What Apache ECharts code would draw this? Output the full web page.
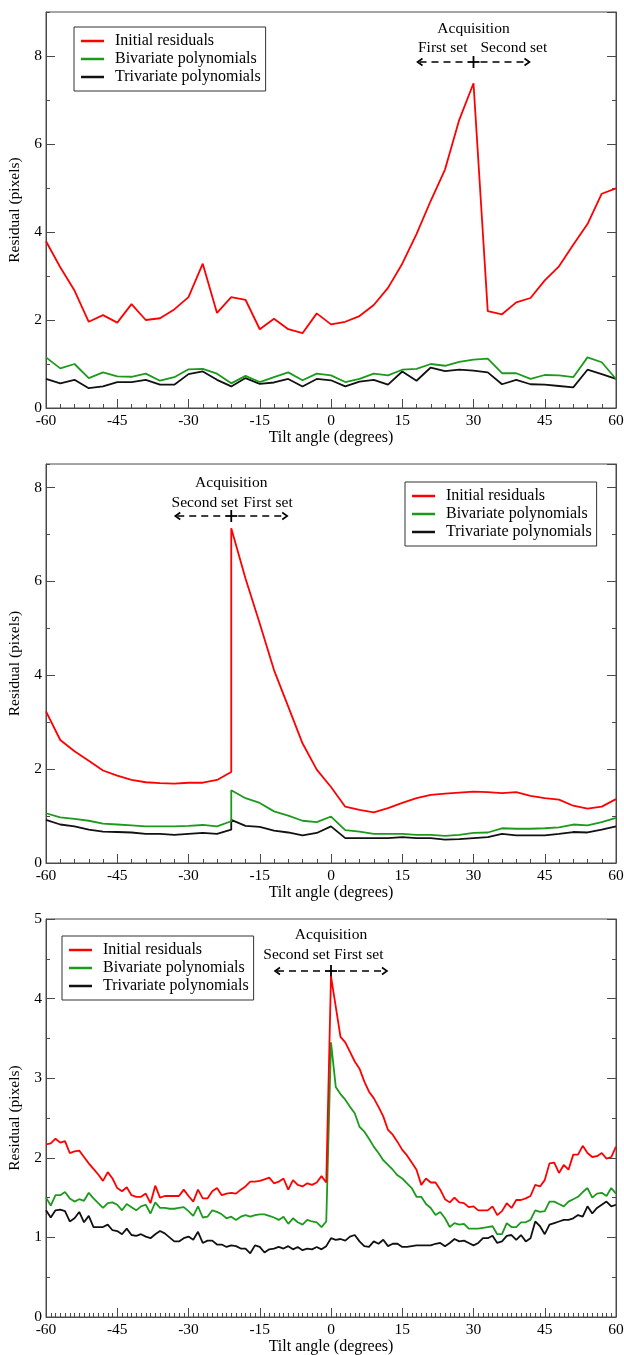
<!DOCTYPE html>
<html><head><meta charset="utf-8">
<script src="https://cdn.jsdelivr.net/npm/echarts@6/dist/echarts.min.js"></script>
<style>html,body{margin:0;padding:0;background:#fff}#c{width:624px;height:1355px}</style>
</head><body><div id="c"></div>
<script>
// ---------- DATA ----------
const seriesNames = ['Initial residuals', 'Bivariate polynomials', 'Trivariate polynomials'];
const xAxisTitle = 'Tilt angle (degrees)';
const yAxisTitle = 'Residual (pixels)';

// Panel 1 (3-degree steps)
const angles1 = [-60,-57,-54,-51,-48,-45,-42,-39,-36,-33,-30,-27,-24,-21,-18,-15,-12,-9,-6,-3,0,3,6,9,12,15,18,21,24,27,30,33,36,39,42,45,48,51,54,57,60];
const red1 = [3.79,3.2,2.67,1.96,2.11,1.94,2.36,2.0,2.04,2.24,2.52,3.28,2.16,2.52,2.46,1.79,2.03,1.79,1.7,2.15,1.9,1.96,2.09,2.34,2.73,3.28,3.95,4.71,5.42,6.55,7.38,2.2,2.13,2.4,2.5,2.9,3.22,3.71,4.18,4.87,4.99];
const green1 = [1.15,0.9,1.0,0.68,0.81,0.72,0.71,0.78,0.62,0.7,0.88,0.89,0.78,0.56,0.73,0.59,0.7,0.81,0.63,0.78,0.74,0.59,0.66,0.78,0.74,0.87,0.89,1.0,0.96,1.05,1.1,1.12,0.79,0.79,0.66,0.75,0.74,0.7,1.15,1.04,0.66];
const black1 = [0.66,0.56,0.64,0.45,0.49,0.59,0.59,0.64,0.53,0.53,0.77,0.83,0.64,0.49,0.68,0.55,0.58,0.66,0.49,0.66,0.63,0.49,0.6,0.64,0.53,0.83,0.62,0.92,0.84,0.87,0.85,0.81,0.54,0.64,0.54,0.53,0.5,0.47,0.87,0.77,0.66];

// Panel 2 (3-degree steps, two sets meeting at -21)
const angles2 = [-60,-57,-54,-51,-48,-45,-42,-39,-36,-33,-30,-27,-24,-21,-21,-18,-15,-12,-9,-6,-3,0,3,6,9,12,15,18,21,24,27,30,33,36,39,42,45,48,51,54,57,60];
const red2 = [3.23,2.62,2.38,2.18,1.97,1.86,1.77,1.72,1.70,1.69,1.71,1.71,1.77,1.94,7.13,6.06,5.1,4.11,3.33,2.55,1.99,1.62,1.2,1.13,1.08,1.17,1.28,1.38,1.45,1.48,1.5,1.52,1.51,1.49,1.51,1.43,1.38,1.35,1.22,1.16,1.2,1.36];
const green2 = [1.06,0.97,0.94,0.9,0.84,0.82,0.8,0.78,0.78,0.78,0.79,0.81,0.78,0.89,1.55,1.38,1.28,1.1,1.01,0.9,0.87,0.99,0.7,0.67,0.62,0.62,0.62,0.6,0.6,0.58,0.6,0.64,0.65,0.74,0.73,0.73,0.74,0.76,0.82,0.8,0.87,0.96];
const black2 = [0.92,0.82,0.78,0.71,0.67,0.66,0.65,0.62,0.62,0.6,0.62,0.64,0.62,0.71,0.92,0.79,0.77,0.69,0.65,0.59,0.64,0.78,0.53,0.53,0.53,0.53,0.55,0.53,0.53,0.5,0.51,0.53,0.55,0.62,0.59,0.59,0.59,0.62,0.66,0.65,0.71,0.78];

// Panel 3 (1-degree steps)
const angles3 = [-60,-59,-58,-57,-56,-55,-54,-53,-52,-51,-50,-49,-48,-47,-46,-45,-44,-43,-42,-41,-40,-39,-38,-37,-36,-35,-34,-33,-32,-31,-30,-29,-28,-27,-26,-25,-24,-23,-22,-21,-20,-19,-18,-17,-16,-15,-14,-13,-12,-11,-10,-9,-8,-7,-6,-5,-4,-3,-2,-1,0,1,2,3,4,5,6,7,8,9,10,11,12,13,14,15,16,17,18,19,20,21,22,23,24,25,26,27,28,29,30,31,32,33,34,35,36,37,38,39,40,41,42,43,44,45,46,47,48,49,50,51,52,53,54,55,56,57,58,59,60];
const red3 = [2.17,2.18,2.24,2.19,2.21,2.06,2.08,2.09,2.01,1.93,1.86,1.79,1.71,1.82,1.74,1.62,1.58,1.63,1.53,1.51,1.51,1.55,1.43,1.65,1.5,1.52,1.52,1.52,1.52,1.6,1.52,1.45,1.6,1.49,1.49,1.58,1.62,1.53,1.55,1.56,1.55,1.6,1.64,1.7,1.7,1.71,1.73,1.75,1.68,1.7,1.74,1.6,1.72,1.66,1.64,1.68,1.66,1.69,1.77,1.69,4.28,3.9,3.52,3.45,3.33,3.21,3.12,2.96,2.83,2.75,2.64,2.52,2.35,2.29,2.2,2.1,2.03,1.94,1.85,1.66,1.74,1.69,1.69,1.6,1.48,1.44,1.5,1.44,1.43,1.38,1.39,1.34,1.34,1.34,1.39,1.28,1.33,1.43,1.37,1.47,1.47,1.49,1.52,1.66,1.64,1.72,1.93,1.94,1.81,1.91,1.85,2.04,2.04,2.15,2.06,2.01,2.02,2.06,1.99,2.01,2.14];
const green3 = [1.5,1.4,1.53,1.53,1.57,1.49,1.45,1.48,1.46,1.56,1.49,1.43,1.37,1.43,1.44,1.41,1.34,1.42,1.38,1.34,1.39,1.41,1.3,1.44,1.37,1.37,1.36,1.36,1.37,1.38,1.33,1.27,1.39,1.25,1.26,1.34,1.32,1.29,1.24,1.26,1.22,1.26,1.28,1.26,1.28,1.29,1.29,1.27,1.25,1.22,1.26,1.17,1.24,1.19,1.16,1.22,1.2,1.19,1.13,1.2,3.45,2.89,2.8,2.73,2.64,2.56,2.39,2.33,2.24,2.14,2.06,1.97,1.91,1.85,1.78,1.74,1.68,1.62,1.51,1.51,1.42,1.37,1.28,1.32,1.24,1.13,1.18,1.16,1.17,1.11,1.11,1.11,1.12,1.13,1.14,1.04,1.04,1.18,1.13,1.13,1.19,1.19,1.22,1.34,1.32,1.33,1.45,1.45,1.42,1.39,1.45,1.48,1.51,1.57,1.62,1.5,1.55,1.56,1.52,1.62,1.55];
const black3 = [1.34,1.25,1.34,1.35,1.33,1.2,1.24,1.32,1.19,1.27,1.13,1.13,1.13,1.16,1.09,1.08,1.04,1.11,1.03,1.02,1.04,1.01,0.99,1.04,1.08,1.05,1.0,0.95,0.95,0.99,1.01,0.97,1.07,0.93,0.96,0.96,0.91,0.91,0.88,0.9,0.89,0.86,0.86,0.8,0.9,0.88,0.81,0.85,0.86,0.88,0.86,0.89,0.85,0.88,0.84,0.86,0.85,0.88,0.85,0.89,0.99,0.97,0.98,0.96,1.01,1.03,0.95,0.89,0.88,0.95,0.92,0.97,0.89,0.92,0.92,0.88,0.88,0.89,0.9,0.9,0.9,0.9,0.92,0.93,0.89,0.93,0.98,0.95,0.96,0.93,0.9,0.93,0.99,0.99,1.02,0.93,0.95,1.02,1.03,0.97,1.03,0.95,0.99,1.2,1.14,1.04,1.16,1.18,1.2,1.22,1.22,1.24,1.28,1.26,1.39,1.3,1.37,1.41,1.45,1.39,1.41];

// Axis ranges / ticks
const xRange = [-60, 60];
const xMajor = 15;
const yMaxes = [9, 8.5, 5];
const yMajors = [2, 2, 1];
const yMinors = [1, 1, 0.5];
const xMinorSplits = [5, 5, 15];

// Annotation content
const acquisitionTitle = 'Acquisition';
const acquisitionAngles = [30, -21, 0];
const setLabels = [['First set', 'Second set'], ['Second set', 'First set'], ['Second set', 'First set']];

// ---------- LAYOUT / STYLE ----------
const FONT = '"Liberation Serif", "Times New Roman", serif';
const colors = ['#ff0000', '#1c9a1c', '#111111'];
const frameColor = '#4a4a4a';
const gridTops = [12, 464, 919];
const gridHeights = [396, 399, 398];
const legendPos = [{left: 74, top: 27}, {left: 405, top: 482}, {left: 62, top: 936}];
const annDy = [[17, 36, 50], [19, 39, 52], [16, 36, 52]];
const labelGaps = [[-6, 7], [7, 12], [-1, 3]];

const panels = [
  {angles: angles1, vals: [red1, green1, black1]},
  {angles: angles2, vals: [red2, green2, black2]},
  {angles: angles3, vals: [red3, green3, black3]}
];

const chart = echarts.init(document.getElementById('c'), null, {renderer: 'canvas'});

const grid = [], xAxis = [], yAxis = [], series = [], legend = [];
panels.forEach((p, i) => {
  grid.push({left: 46, right: 8, top: gridTops[i], height: gridHeights[i],
    show: true, borderColor: frameColor, borderWidth: 1, backgroundColor: '#fff',
    outerBoundsMode: 'none', containLabel: false});
  xAxis.push({type: 'value', gridIndex: i, min: xRange[0], max: xRange[1], interval: xMajor,
    position: 'bottom',
    name: xAxisTitle, nameLocation: 'middle', nameGap: 22,
    nameTextStyle: {fontFamily: FONT, fontSize: 16, color: '#000'},
    axisLine: {show: true, onZero: false, lineStyle: {color: frameColor, width: 1}},
    axisTick: {show: true, inside: true, length: 9, lineStyle: {color: frameColor, width: 1}},
    minorTick: {show: true, splitNumber: xMinorSplits[i], length: 4, lineStyle: {color: frameColor, width: 1}},
    axisLabel: {fontFamily: FONT, fontSize: 15.5, color: '#000', margin: 5},
    splitLine: {show: false}, minorSplitLine: {show: false}});
  const base = {type: 'value', gridIndex: i, min: 0, max: yMaxes[i], splitLine: {show: false}};
  // left major
  yAxis.push(Object.assign({}, base, {position: 'left', interval: yMajors[i],
    name: yAxisTitle, nameLocation: 'middle', nameGap: 20,
    nameTextStyle: {fontFamily: FONT, fontSize: 15.5, color: '#000'},
    axisLine: {show: true, onZero: false, lineStyle: {color: frameColor, width: 1}},
    axisTick: {show: true, inside: true, length: 9, lineStyle: {color: frameColor}},
    axisLabel: {fontFamily: FONT, fontSize: 15.5, color: '#000', margin: 4, showMaxLabel: yMaxes[i] % yMajors[i] === 0}}));
  // left minor
  yAxis.push(Object.assign({}, base, {position: 'left', interval: yMinors[i],
    axisLine: {show: false, onZero: false}, axisLabel: {show: false},
    axisTick: {show: true, inside: true, length: 4, lineStyle: {color: frameColor}}}));
  // right major
  yAxis.push(Object.assign({}, base, {position: 'right', interval: yMajors[i],
    axisLine: {show: true, onZero: false, lineStyle: {color: frameColor, width: 1}}, axisLabel: {show: false},
    axisTick: {show: true, inside: true, length: 9, lineStyle: {color: frameColor}}}));
  // right minor
  yAxis.push(Object.assign({}, base, {position: 'right', interval: yMinors[i],
    axisLine: {show: false, onZero: false}, axisLabel: {show: false},
    axisTick: {show: true, inside: true, length: 4, lineStyle: {color: frameColor}}}));

  p.vals.forEach((v, k) => {
    series.push({type: 'line', name: seriesNames[k], xAxisIndex: i, yAxisIndex: i * 4,
      data: p.angles.map((a, j) => [a, v[j]]),
      symbol: 'none', showSymbol: false, smooth: false,
      lineStyle: {color: colors[k], width: 1.8}, itemStyle: {color: colors[k]},
      emphasis: {disabled: true}, animation: false, z: 3 - k});
  });

  legend.push({orient: 'vertical', left: legendPos[i].left, top: legendPos[i].top,
    data: seriesNames, icon: 'rect', itemWidth: 23, itemHeight: 2.5, itemGap: 2,
    padding: [6, 5, 6, 7], borderColor: '#333', borderWidth: 1, borderRadius: 0,
    backgroundColor: '#fff', selectedMode: false,
    textStyle: {fontFamily: FONT, fontSize: 16, lineHeight: 16, color: '#000', padding: [0, 0, 0, 6]}});
});

chart.setOption({animation: false, backgroundColor: '#fff', grid, xAxis, yAxis, series, legend});

// Annotations anchored to the acquisition start angle of each panel
const graphic = [];
acquisitionAngles.forEach((ang, i) => {
  const cx = chart.convertToPixel({xAxisIndex: i}, ang);
  const top = gridTops[i];
  const yT = top + annDy[i][0], yL = top + annDy[i][1], yA = top + annDy[i][2];
  const ts = {fontFamily: FONT, fontSize: 15.5, fill: '#000', textVerticalAlign: 'middle'};
  graphic.push({type: 'text', x: cx, y: yT, style: Object.assign({text: acquisitionTitle, textAlign: 'center'}, ts)});
  graphic.push({type: 'text', x: cx + labelGaps[i][0], y: yL, style: Object.assign({text: setLabels[i][0], textAlign: 'right'}, ts)});
  graphic.push({type: 'text', x: cx + labelGaps[i][1], y: yL, style: Object.assign({text: setLabels[i][1], textAlign: 'left'}, ts)});
  const half = 56;
  const ls = {stroke: '#000', lineWidth: 1.6, lineDash: [7, 5]};
  graphic.push({type: 'line', shape: {x1: cx - half + 2, y1: yA, x2: cx - 7, y2: yA}, style: ls});
  graphic.push({type: 'line', shape: {x1: cx + 7, y1: yA, x2: cx + half - 2, y2: yA}, style: ls});
  const ss = {stroke: '#000', lineWidth: 1.6, fill: null};
  graphic.push({type: 'polyline', shape: {points: [[cx - half + 5, yA - 3.5], [cx - half, yA], [cx - half + 5, yA + 3.5]]}, style: ss});
  graphic.push({type: 'polyline', shape: {points: [[cx + half - 5, yA - 3.5], [cx + half, yA], [cx + half - 5, yA + 3.5]]}, style: ss});
  graphic.push({type: 'line', shape: {x1: cx - 6, y1: yA, x2: cx + 6, y2: yA}, style: {stroke: '#000', lineWidth: 1.8}});
  graphic.push({type: 'line', shape: {x1: cx, y1: yA - 6, x2: cx, y2: yA + 6}, style: {stroke: '#000', lineWidth: 1.8}});
});
chart.setOption({graphic});
</script></body></html>
